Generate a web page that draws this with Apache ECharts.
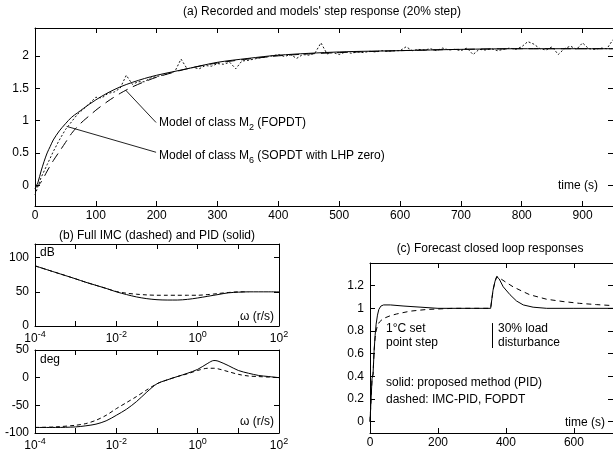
<!DOCTYPE html>
<html>
<head>
<meta charset="utf-8">
<script src="https://cdn.jsdelivr.net/npm/echarts@6/dist/echarts.min.js"></script>
<style>
html,body{margin:0;padding:0;background:#fff;}
#main{width:613px;height:459px;}
</style>
</head>
<body>
<div id="main"></div>
<script>
// (a) recorded step response and the two models
var recT = [0,10,20,30,40,50,60,70,80,90,100,110,120,130,140,150,160,170,180,190,200,210,220,230,240,250,260,270,280,290,300,310,320,330,340,350,360,370,380,390,400,410,420,430,440,450,460,470,480,490,500,510,520,530,540,550,560,570,580,590,600,610,620,630,640,650,660,670,680,690,700,710,720,730,740,750,760,770,780,790,800,810,820,830,840,850,860,870,880,890,900,910,920,930,940,950];
var recY = [-0.15,0.12,0.32,0.52,0.7,0.86,0.98,1.1,1.18,1.27,1.36,1.35,1.42,1.44,1.5,1.7,1.56,1.6,1.6,1.66,1.68,1.7,1.73,1.76,1.95,1.8,1.82,1.8,1.85,1.84,1.88,1.87,1.9,1.8,1.92,1.93,1.95,1.97,1.98,2.0,2.02,1.99,2.02,1.96,2.02,2.01,2.04,2.2,2.03,2.05,2.02,2.06,2.04,2.06,2.05,2.07,2.06,2.08,2.07,2.08,2.08,2.14,2.08,2.1,2.09,2.11,2.08,2.12,2.09,2.1,2.08,2.12,2.02,2.1,2.09,2.11,2.08,2.1,2.12,2.1,2.14,2.22,2.18,2.11,2.09,2.14,2.02,2.11,2.15,2.1,2.2,2.11,2.1,2.12,2.11,2.25];

var m6T = [0,5,10,15,20,25,30,40,50,60,70,80,100,120,140,160,180,200,250,300,350,400,500,600,700,800,950];
var m6Y = [-0.05,0.05,0.22,0.37,0.5,0.6,0.7,0.84,0.95,1.05,1.12,1.19,1.32,1.43,1.52,1.59,1.65,1.7,1.8,1.9,1.96,2.01,2.06,2.08,2.1,2.11,2.11];

var m2T = [0,10,20,30,40,50,60,70,80,90,100,120,140,160,180,200,250,300,350,400,450,500,600,700,800,950];
var m2Y = [-0.05,0.05,0.22,0.38,0.52,0.66,0.8,0.91,1.0,1.08,1.16,1.3,1.42,1.52,1.6,1.67,1.8,1.89,1.95,2.0,2.03,2.05,2.08,2.1,2.11,2.11];

// (b) bode plots, frequency in r/s
var bodeW = [1e-4,3.16e-4,1e-3,1.78e-3,3.16e-3,5.62e-3,1e-2,1.78e-2,3.16e-2,5.62e-2,0.1,0.178,0.316,0.562,1,1.78,2.51,3.16,5.62,10,17.8,31.6,56.2,100];
var magPid = [88,78.5,69,64,59.5,55,50,46,42.5,40,38.5,38,38,39,41,43.5,45,46,48.5,49.5,50,50,50,50];
var magImc = [88,78.5,69,64,59.5,55,50.5,48,46.5,45.5,45,45,45,45,45,46,46.8,47.5,49,50,50,null,null,null];
var phPid = [-90,-90,-89,-87,-84,-78,-68,-57,-43,-26,-11,-4,2,8,15,26,31,30,22,13,8,4,2,0];
var phImc = [-90,-89,-86,-83,-77,-68,-56,-45,-34,-22,-11,-4,2,7,13,17,17,16,11,6,3,2,1,0];

// (c) closed loop responses
var clT1 = [0,5,6,9,12,15,18,22,26,32,40,60,100,150,200,300,355,360,362,368,373,380,392,412,431,451,480,520,600,715];
var clPid = [0,0,0.38,0.42,0.62,0.76,0.86,0.94,0.99,1.02,1.03,1.03,1.02,1.01,1.0,1.0,1.0,1.0,1.16,1.24,1.28,1.26,1.19,1.12,1.065,1.03,1.01,1.0,1.0,1.0];
var clT2 = [0,5,6,9,12,15,18,22,28,39,60,78,118,167,245,355,360,362,368,373,380,400,421,445,470,495,520,568,617,666,715];
var clImc = [0,0,0.38,0.42,0.62,0.74,0.8,0.85,0.88,0.91,0.935,0.95,0.975,0.99,1.0,1.0,1.0,1.16,1.24,1.28,1.27,1.23,1.19,1.155,1.12,1.1,1.08,1.06,1.044,1.033,1.024];

var aYTicks = [0,0.5,1,1.5,2];
var magTicks = [0,50,100];
var cYTicks = [0,0.2,0.4,0.6,0.8,1,1.2];

var FONT = 'Liberation Sans, Arial, sans-serif';
var BLACK = '#000';

function pairs(xs, ys) {
	return xs.map(function(x, i){ return [x, ys[i]]; });
}

var logLabel = {
	color: BLACK,
	fontFamily: FONT,
	margin: 4,
	formatter: function(v){
		var e = Math.round(Math.log(v) / Math.LN10);
		if (e % 2 !== 0) return '';
		return '{b|10}{s|' + e + '}';
	},
	rich: {
		b: {fontSize: 12, lineHeight: 17, fontFamily: FONT, color: BLACK},
		s: {fontSize: 9, lineHeight: 9, verticalAlign: 'top', fontFamily: FONT, color: BLACK}
	}
};

function xAx(grid, pos, opts) {
	var ax = {
		gridIndex: grid,
		position: pos,
		axisLine: {show: true, onZero: false, lineStyle: {color: BLACK, width: 1}},
		axisTick: {show: true, inside: true, length: 5, lineStyle: {color: BLACK}},
		axisLabel: {show: pos === 'bottom', color: BLACK, fontSize: 12, fontFamily: FONT, margin: 4, showMaxLabel: false},
		splitLine: {show: false}
	};
	return Object.assign(ax, opts);
}

function yAx(grid, pos, opts, ticks) {
	var ax = {
		type: 'value',
		gridIndex: grid,
		position: pos,
		axisLine: {show: true, onZero: false, lineStyle: {color: BLACK, width: 1}},
		axisTick: {show: true, inside: true, length: 5, lineStyle: {color: BLACK}},
		axisLabel: {show: pos === 'left', color: BLACK, fontSize: 12, fontFamily: FONT, margin: 6},
		splitLine: {show: false}
	};
	if (ticks) {
		ax.axisTick.customValues = ticks;
		ax.axisLabel.customValues = ticks;
	}
	return Object.assign(ax, opts);
}

function txt(x, y, s, align, rich) {
	var st = {text: s, x: 0, y: 0, fill: BLACK, font: '12px ' + FONT, align: align || 'left', verticalAlign: 'middle'};
	if (rich) st.rich = rich;
	return {type: 'text', x: x, y: y, silent: true, style: st};
}

var subRich = {
	a: {fontSize: 12, lineHeight: 18, fontFamily: FONT, fill: BLACK, color: BLACK},
	s: {fontSize: 9, lineHeight: 9, verticalAlign: 'bottom', fontFamily: FONT, fill: BLACK, color: BLACK}
};

var chart = echarts.init(document.getElementById('main'));
var option = {
	backgroundColor: '#fff',
	animation: false,
	grid: [
		{left: 35, top: 28, width: 578, height: 178},
		{left: 35, top: 244, width: 244, height: 82},
		{left: 35, top: 350, width: 244, height: 83},
		{left: 370, top: 263, width: 243, height: 170}
	],
	xAxis: [
		xAx(0, 'bottom', {type: 'value', min: 0, max: 950, interval: 100}),
		xAx(0, 'top', {type: 'value', min: 0, max: 950, interval: 100}),
		xAx(1, 'bottom', {type: 'log', logBase: 10, min: 1e-4, max: 100, axisLabel: logLabel}),
		xAx(1, 'top', {type: 'log', logBase: 10, min: 1e-4, max: 100}),
		xAx(2, 'bottom', {type: 'log', logBase: 10, min: 1e-4, max: 100, axisLabel: logLabel}),
		xAx(2, 'top', {type: 'log', logBase: 10, min: 1e-4, max: 100}),
		xAx(3, 'bottom', {type: 'value', min: 0, max: 715, interval: 200}),
		xAx(3, 'top', {type: 'value', min: 0, max: 715, interval: 200})
	],
	yAxis: [
		yAx(0, 'left', {min: -0.32, max: 2.43}, aYTicks),
		yAx(0, 'right', {min: -0.32, max: 2.43}, aYTicks),
		yAx(1, 'left', {min: 0, max: 120}, magTicks),
		yAx(1, 'right', {min: 0, max: 120}, magTicks),
		yAx(2, 'left', {min: -100, max: 50, interval: 50}),
		yAx(2, 'right', {min: -100, max: 50, interval: 50}),
		yAx(3, 'left', {min: -0.1, max: 1.4}, cYTicks),
		yAx(3, 'right', {min: -0.1, max: 1.4}, cYTicks)
	],
	series: [
		{
			name: 'recorded', type: 'line', xAxisIndex: 0, yAxisIndex: 0,
			data: pairs(recT, recY), symbol: 'none',
			lineStyle: {color: '#111', width: 1, type: [2, 2]}
		},
		{
			name: 'M2', type: 'line', xAxisIndex: 0, yAxisIndex: 0,
			data: pairs(m2T, m2Y), symbol: 'none', smooth: 0.3,
			lineStyle: {color: BLACK, width: 1, type: [10, 6]},
			markLine: {
				silent: true, symbol: 'none', label: {show: false},
				lineStyle: {color: '#222', width: 1, type: 'solid'},
				data: [
					[{coord: [149, 1.47]}, {coord: [199, 0.97]}],
					[{coord: [52, 0.91]}, {coord: [199, 0.51]}]
				]
			}
		},
		{
			name: 'M6', type: 'line', xAxisIndex: 0, yAxisIndex: 0,
			data: pairs(m6T, m6Y), symbol: 'none', smooth: 0.3,
			lineStyle: {color: BLACK, width: 1}
		},
		{
			name: 'mag PID', type: 'line', xAxisIndex: 2, yAxisIndex: 2,
			data: pairs(bodeW, magPid), symbol: 'none', smooth: 0.3,
			lineStyle: {color: BLACK, width: 1}
		},
		{
			name: 'mag IMC', type: 'line', xAxisIndex: 2, yAxisIndex: 2,
			data: pairs(bodeW, magImc), symbol: 'none', smooth: 0.3,
			lineStyle: {color: BLACK, width: 1, type: [4, 3]}
		},
		{
			name: 'phase PID', type: 'line', xAxisIndex: 4, yAxisIndex: 4,
			data: pairs(bodeW, phPid), symbol: 'none', smooth: 0.3,
			lineStyle: {color: BLACK, width: 1}
		},
		{
			name: 'phase IMC', type: 'line', xAxisIndex: 4, yAxisIndex: 4,
			data: pairs(bodeW, phImc), symbol: 'none', smooth: 0.3,
			lineStyle: {color: BLACK, width: 1, type: [4, 3]}
		},
		{
			name: 'cl PID', type: 'line', xAxisIndex: 6, yAxisIndex: 6,
			data: pairs(clT1, clPid), symbol: 'none',
			lineStyle: {color: BLACK, width: 1},
			markLine: {
				silent: true, symbol: 'none', label: {show: false},
				lineStyle: {color: BLACK, width: 1, type: 'solid'},
				data: [[{coord: [360, 0.87]}, {coord: [360, 0.65]}]]
			}
		},
		{
			name: 'cl IMC', type: 'line', xAxisIndex: 6, yAxisIndex: 6,
			data: pairs(clT2, clImc), symbol: 'none',
			lineStyle: {color: BLACK, width: 1, type: [5, 4]}
		}
	],
	graphic: [
		txt(322, 12, "(a) Recorded and models' step response (20% step)", 'center'),
		txt(157, 236, '(b) Full IMC (dashed) and PID (solid)', 'center'),
		txt(490, 249, '(c) Forecast closed loop responses', 'center'),
		txt(159, 123, '{a|Model of class M}{s|2}{a| (FOPDT)}', 'left', subRich),
		txt(159, 156, '{a|Model of class M}{s|6}{a| (SOPDT with LHP zero)}', 'left', subRich),
		txt(598, 186, 'time (s)', 'right'),
		txt(40, 253, 'dB', 'left'),
		txt(274, 317, 'ω (r/s)', 'right'),
		txt(40, 360, 'deg', 'left'),
		txt(274, 422, 'ω (r/s)', 'right'),
		txt(386, 329, '1°C set', 'left'),
		txt(386, 343, 'point step', 'left'),
		txt(498, 329, '30% load', 'left'),
		txt(498, 343, 'disturbance', 'left'),
		txt(386, 383, 'solid: proposed method (PID)', 'left'),
		txt(386, 400, 'dashed: IMC-PID, FOPDT', 'left'),
		txt(605, 423, 'time (s)', 'right')
	]
};
chart.setOption(option);
</script>
</body>
</html>
